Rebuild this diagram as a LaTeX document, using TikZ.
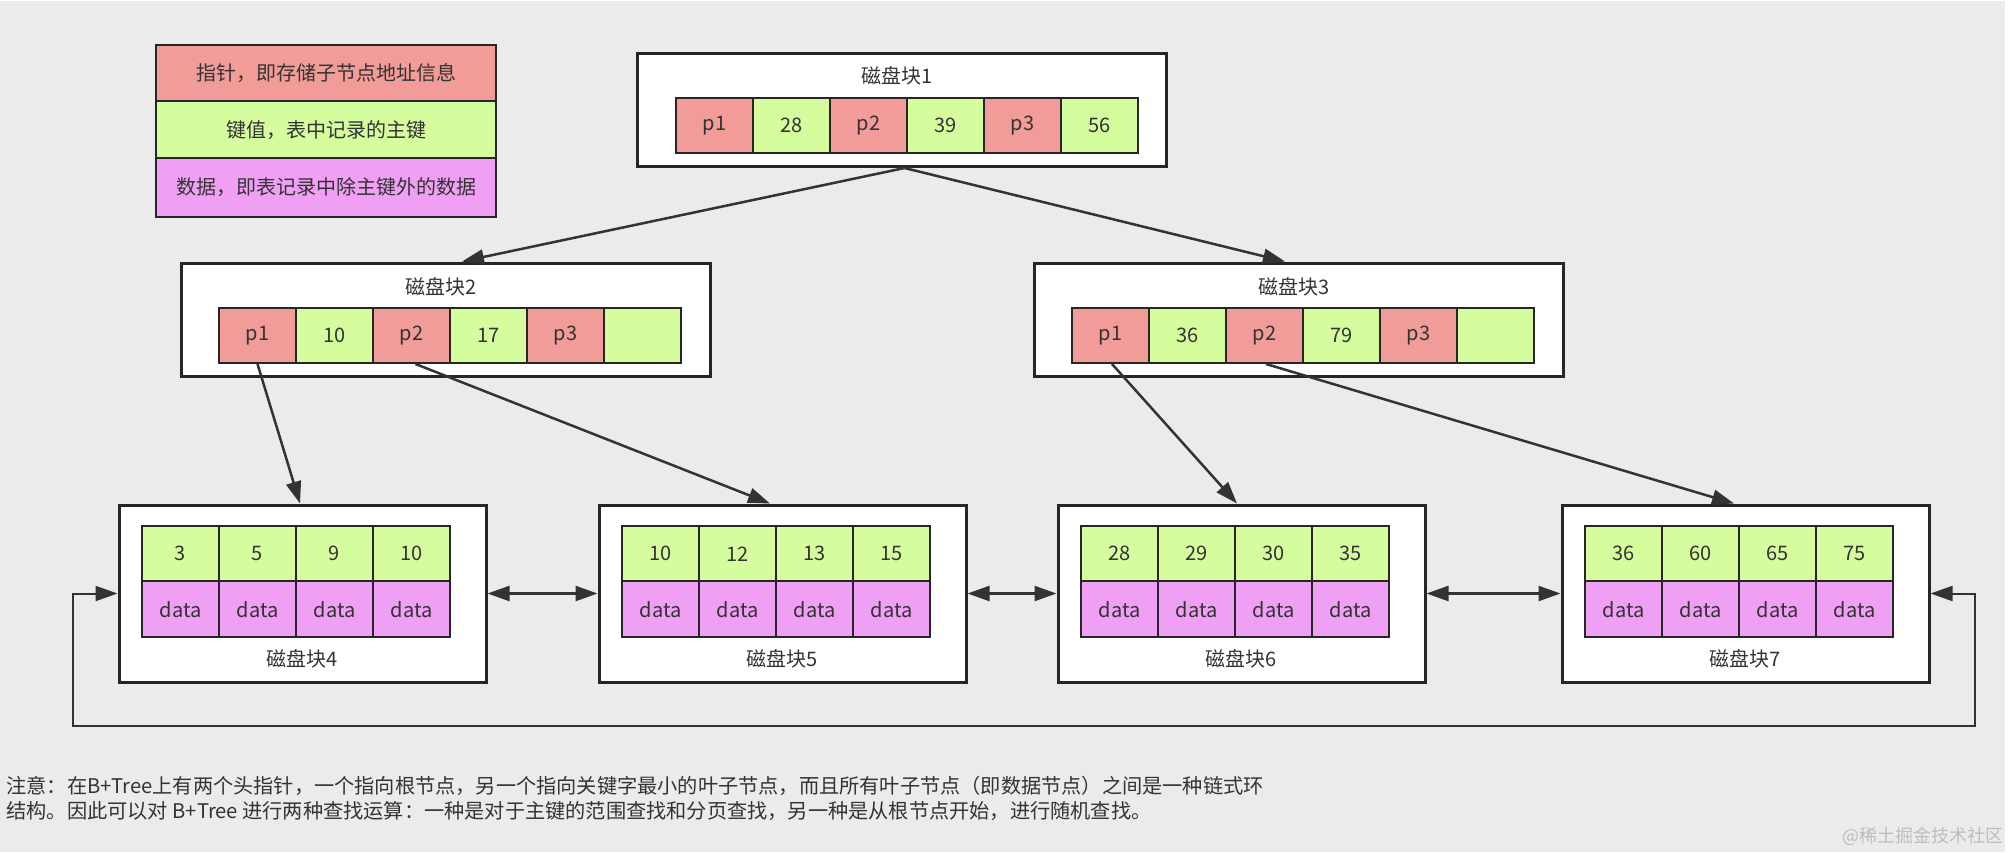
\documentclass[tikz,border=0pt]{standalone}
\usepackage{fontspec}
\setmainfont{Noto Sans CJK SC}
\usetikzlibrary{arrows.meta}
\definecolor{bg}{HTML}{EBEBEB}
\definecolor{ptr}{HTML}{F19C99}
\definecolor{key}{HTML}{D5FD9E}
\definecolor{dat}{HTML}{F0A0F4}
\definecolor{ink}{HTML}{333333}
\definecolor{edge}{HTML}{262626}
\definecolor{wm}{HTML}{BDBDBD}
\begin{document}
\begin{tikzpicture}[x=0.5pt,y=-0.5pt,
  blk/.style={draw=edge, fill=white, line width=1.5pt, inner sep=0pt},
  topblk/.style={blk, minimum width=264.5pt, minimum height=56.5pt},
  leafblk/.style={blk, minimum width=183.5pt, minimum height=88.5pt},
  cell/.style={draw=edge, line width=1pt, minimum width=38.5pt, minimum height=27.5pt,
    inner sep=0pt, font=\fontsize{10}{12}\selectfont, text=ink},
  pcell/.style={cell, fill=ptr},
  kcell/.style={cell, fill=key},
  dcell/.style={cell, fill=dat},
  legrow/.style={draw=edge, line width=1.2pt, minimum width=170pt, inner sep=0pt,
    font=\fontsize{10}{12}\selectfont, text=ink},
  title/.style={font=\fontsize{10}{12}\selectfont, text=ink, inner sep=0pt},
  note/.style={font=\fontsize{10.1}{12}\selectfont, text=ink, inner sep=0pt, anchor=west},
  arr/.style={-{Triangle[length=11pt,width=7.5pt]}, line width=1.25pt, draw=ink},
  darr/.style={{Triangle[length=11pt,width=7.5pt]}-{Triangle[length=11pt,width=7.5pt]}, line width=1.25pt, draw=ink}
]
\useasboundingbox (0,0) rectangle (2012,852);
\fill[bg] (0,1) rectangle (2005,852);

% legend
\node[legrow, fill=ptr, minimum height=28pt] (leg1) at (326,73) {指针，即存储子节点地址信息};
\node[legrow, fill=key, minimum height=28.5pt] (leg2) at (326,129.75) {键值，表中记录的主键};
\node[legrow, fill=dat, minimum height=29.5pt] (leg3) at (326,187.5) {数据，即表记录中除主键外的数据};

% top blocks
\node[topblk] (b1) at (901.5,110) {};
\node[topblk] (b2) at (445.5,319.5) {};
\node[topblk] (b3) at (1298.5,319.5) {};
\node[title] (t1) at (897,76) {磁盘块1};
\node[title] (t2) at (441,287) {磁盘块2};
\node[title] (t3) at (1294,287) {磁盘块3};

% leaf blocks
\node[leafblk] (b4) at (302.5,593.5) {};
\node[leafblk] (b5) at (782.5,593.5) {};
\node[leafblk] (b6) at (1241.5,593.5) {};
\node[leafblk] (b7) at (1745.5,593.5) {};
\node[title] (t4) at (302,659) {磁盘块4};
\node[title] (t5) at (782,659) {磁盘块5};
\node[title] (t6) at (1241,659) {磁盘块6};
\node[title] (t7) at (1745,659) {磁盘块7};

% cells of block 1
\node[pcell] (b1p1) at (714.5,125.5) {p1};
\node[kcell] (b1k1) at (791.5,125.5) {28};
\node[pcell] (b1p2) at (868.5,125.5) {p2};
\node[kcell] (b1k2) at (945.5,125.5) {39};
\node[pcell] (b1p3) at (1022.5,125.5) {p3};
\node[kcell] (b1k3) at (1099.5,125.5) {56};

% cells of block 2
\node[pcell] (b2p1) at (257.5,335.5) {p1};
\node[kcell] (b2k1) at (334.5,335.5) {10};
\node[pcell] (b2p2) at (411.5,335.5) {p2};
\node[kcell] (b2k2) at (488.5,335.5) {17};
\node[pcell] (b2p3) at (565.5,335.5) {p3};
\node[kcell] (b2k3) at (642.5,335.5) {};

% cells of block 3
\node[pcell] (b3p1) at (1110.5,335.5) {p1};
\node[kcell] (b3k1) at (1187.5,335.5) {36};
\node[pcell] (b3p2) at (1264.5,335.5) {p2};
\node[kcell] (b3k2) at (1341.5,335.5) {79};
\node[pcell] (b3p3) at (1418.5,335.5) {p3};
\node[kcell] (b3k3) at (1495.5,335.5) {};

% leaf cells
\foreach \b/\x/\ka/\kb/\kc/\kd in {4/180.5/3/5/9/10, 5/660.5/10/12/13/15, 6/1119.5/28/29/30/35, 7/1623.5/36/60/65/75}{
  \node[kcell] (b\b k1) at (\x,553.75) {\ka};
  \node[kcell] (b\b k2) at (\x+77,553.75) {\kb};
  \node[kcell] (b\b k3) at (\x+154,553.75) {\kc};
  \node[kcell] (b\b k4) at (\x+231,553.75) {\kd};
  \node[dcell, minimum height=28pt] (b\b d1) at (\x,609.25) {data};
  \node[dcell, minimum height=28pt] (b\b d2) at (\x+77,609.25) {data};
  \node[dcell, minimum height=28pt] (b\b d3) at (\x+154,609.25) {data};
  \node[dcell, minimum height=28pt] (b\b d4) at (\x+231,609.25) {data};
}

% tree arrows
\draw[arr] ([xshift=1.5pt]b1.south) -- ([xshift=8.25pt]b2.north);
\draw[arr] ([xshift=1.5pt]b1.south) -- ([xshift=-6.75pt]b3.north);
\draw[arr] (b2p1.south) -- ([xshift=-1.25pt]b4.north);
\draw[arr] ([xshift=2pt]b2p2.south) -- ([xshift=-6.25pt]b5.north);
\draw[arr] ([xshift=0.75pt]b3p1.south) -- ([xshift=-2.25pt]b6.north);
\draw[arr] ([xshift=0.75pt]b3p2.south) -- ([xshift=-5.75pt]b7.north);

% leaf links
\draw[darr] (b4.east) -- (b5.west);
\draw[darr] (b5.east) -- (b6.west);
\draw[darr] (b6.east) -- (b7.west);
\coordinate (lr) at (1975,726);
\coordinate (ll) at (73,726);
\draw[darr, line width=1pt] (b7.east) -| (lr) -- (ll) |- (b4.west);

% note
\node[note] (n1) at (6,786) {注意：在B+Tree上有两个头指针，一个指向根节点，另一个指向关键字最小的叶子节点，而且所有叶子节点（即数据节点）之间是一种链式环};
\node[note] (n2) at (6,811) {结构。因此可以对 B+Tree 进行两种查找运算：一种是对于主键的范围查找和分页查找，另一种是从根节点开始，进行随机查找。};
\node[font=\fontsize{9}{11}\selectfont, text=wm, inner sep=0pt, anchor=east] (wmk) at (2004,836) {@稀土掘金技术社区};
\end{tikzpicture}
\end{document}
